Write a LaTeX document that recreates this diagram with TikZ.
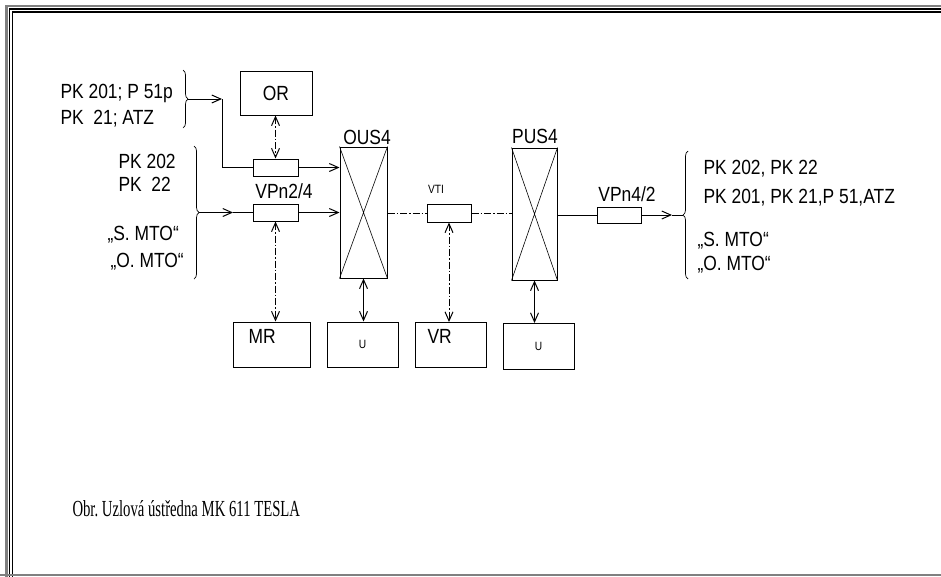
\documentclass[tikz,border=0pt]{standalone}
\usepackage{fontspec}
\setmainfont{Liberation Serif}[FakeStretch=0.64]
\setsansfont{Liberation Sans}[FakeStretch=0.85]
\usetikzlibrary{arrows.meta, decorations.pathreplacing, calc, positioning}

\tikzset{
    blok/.style={draw, inner sep=0pt, font=\sffamily\fontsize{20.5}{20.5}\selectfont},
    malyblok/.style={draw, inner sep=0pt, font=\sffamily\fontsize{12}{12}\selectfont},
    napis/.style={inner sep=0pt, font=\sffamily\fontsize{20.5}{20.5}\selectfont},
    malynapis/.style={inner sep=0pt, font=\sffamily\fontsize{12}{12}\selectfont},
    sipka/.style={-{Straight Barb[length=9pt,width=8pt]}},
    dvojsipka/.style={{Straight Barb[length=9pt,width=8pt]}-{Straight Barb[length=9pt,width=8pt]}},
    carbod/.style={dash pattern=on 7pt off 2pt on 1.5pt off 2pt},
    zavorka/.style={decorate, decoration={brace, amplitude=5pt}}
}

\begin{document}
\begin{tikzpicture}[x=1pt, y=-1pt, line width=1pt]
    \useasboundingbox (0,0) rectangle (941,576);

    % cornice
    \draw[gray, line width=2.5pt] (6.5,590) -- (6.5,6) -- (950,6);
    \draw[line width=1.2pt] (9.5,590) -- (9.5,9) -- (950,9);
    \draw[line width=1.2pt] (12.5,590) -- (12.5,12) -- (950,12);
    \draw[gray, line width=2.5pt] (0,575) -- (950,575);

    % bloky
    \node[blok, minimum width=72pt, minimum height=44pt] (or) at (276,93) {OR};
    \node[blok, minimum width=45pt, minimum height=17pt] (vpa) at (275.5,167.5) {};
    \node[blok, minimum width=45pt, minimum height=17pt] (vpb) at (275.5,212.5) {};
    \node[blok, minimum width=47pt, minimum height=131pt] (ous) at (363.5,212.5) {};
    \node[blok, minimum width=44pt, minimum height=18pt] (vti) at (449,213) {};
    \node[blok, minimum width=45pt, minimum height=132pt] (pus) at (534.5,214) {};
    \node[blok, minimum width=44pt, minimum height=16pt] (vpc) at (619,215) {};
    \node[blok, minimum width=77pt, minimum height=45pt] (mr) at (271.5,344.5) {};
    \node[malyblok, minimum width=71pt, minimum height=45pt] (u1) at (362.5,344.5) {U};
    \node[blok, minimum width=71pt, minimum height=45pt] (vr) at (450.5,345) {};
    \node[malyblok, minimum width=71pt, minimum height=46pt] (u2) at (538.5,346.5) {U};

    % krizky v propojovacich polich
    \draw[line width=0.6pt] (ous.north west) -- (ous.south east) (ous.north east) -- (ous.south west);
    \draw[line width=0.6pt] (pus.north west) -- (pus.south east) (pus.north east) -- (pus.south west);

    % popisky
    \node[napis, anchor=base] (l-vpn24) at (284,198) {VPn2/4};
    \node[napis, anchor=base] (l-ous) at (367,144) {OUS4};
    \node[napis, anchor=base] (l-pus) at (535,143) {PUS4};
    \node[malynapis, anchor=base] (l-vti) at (436,193) {VTI};
    \node[napis, anchor=base] (l-vpn42) at (627,201) {VPn4/2};
    \node[napis, anchor=base west] (l-mr) at (248,343) {MR};
    \node[napis, anchor=base west] (l-vr) at (427,343) {VR};

    % vstupy vlevo
    \node[napis, anchor=base west] (t1) at (60,98) {PK 201; P 51p};
    \node[napis, anchor=base west] (t2) at (60,124) {PK~~21; ATZ};
    \node[napis, anchor=base west] (t3) at (118,168) {PK 202};
    \node[napis, anchor=base west] (t4) at (118,191) {PK~~22};
    \node[napis, anchor=base west] (t5) at (107,240) {„S. MTO“};
    \node[napis, anchor=base west] (t6) at (110,267) {„O. MTO“};

    % vystupy vpravo
    \node[napis, anchor=base west] (v1) at (703,174) {PK 202, PK 22};
    \node[napis, anchor=base west] (v2) at (703,203) {PK 201, PK 21,P 51,ATZ};
    \node[napis, anchor=base west] (v3) at (697,246) {„S. MTO“};
    \node[napis, anchor=base west] (v4) at (697,270) {„O. MTO“};

    % zavorky
    \draw[zavorka, line width=0.7pt] (183,70) -- (183,128);
    \draw[zavorka, line width=0.7pt] (194,146) -- (194,279);
    \draw[zavorka, line width=0.7pt] (688,279) -- (688,151);
    \coordinate (z1) at (188,99);
    \coordinate (z2) at (199,212.5);
    \coordinate (z3) at (683,215);
    \coordinate (k1) at (222,99);
    \coordinate (s2) at (233,212.5);
    \coordinate (s3) at (672,215);

    % spoje
    \draw[sipka] (z1) -- (k1);
    \draw (k1) -- (k1 |- vpa) -- (vpa.west);
    \draw[sipka] (z2) -- (s2);
    \draw (s2) -- (vpb.west);
    \draw[sipka] (vpa.east) -- (ous.west |- vpa);
    \draw[sipka] (vpb.east) -- (ous.west |- vpb);
    \draw[dvojsipka, carbod] (or.south -| vpa.north) -- (vpa.north);
    \draw[dvojsipka, carbod] (vpb.south) -- (vpb.south |- mr.north);
    \draw[dvojsipka] (ous.south) -- (ous.south |- u1.north);
    \draw[carbod] (ous.east |- vti) -- (vti.west);
    \draw[carbod] (vti.east) -- (pus.west |- vti);
    \draw[dvojsipka, carbod] (vti.south) -- (vti.south |- vr.north);
    \draw[dvojsipka] (pus.south) -- (pus.south |- u2.north);
    \draw (pus.east |- vpc) -- (vpc.west);
    \draw[sipka] (vpc.east) -- (s3);
    \draw (s3) -- (z3);

    % popis obrazku
    \node[anchor=base west, inner sep=0pt, font=\rmfamily\fontsize{23}{23}\selectfont] (popis) at (72,516) {Obr.\ Uzlová ústředna MK 611 TESLA};
\end{tikzpicture}
\end{document}
